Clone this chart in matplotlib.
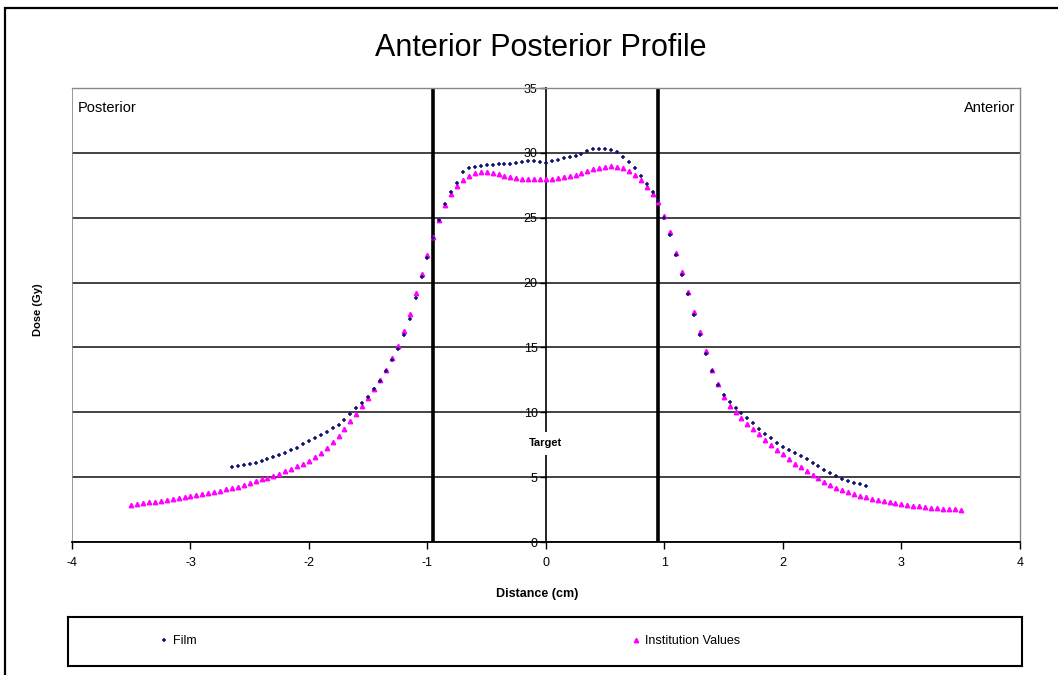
import numpy as np
import matplotlib
matplotlib.use("Agg")
import matplotlib.pyplot as plt
from matplotlib.lines import Line2D
from matplotlib.patches import Rectangle

plt.rcParams["font.family"] = ["Liberation Sans", "DejaVu Sans"]
plt.rcParams["axes.unicode_minus"] = False

# AP dose profiles, sampled every 0.05 cm
x_inst = np.round(np.arange(-3.5, 3.5001, 0.05), 2)
dose_inst = [2.86, 2.92, 2.98, 3.05, 3.11, 3.18, 3.25, 3.32, 3.38, 3.45,
             3.52, 3.60, 3.68, 3.77, 3.86, 3.95, 4.05, 4.15, 4.26, 4.39,
             4.54, 4.68, 4.83, 4.97, 5.12, 5.28, 5.46, 5.65, 5.85, 6.05,
             6.25, 6.55, 6.90, 7.28, 7.70, 8.16, 8.70, 9.30, 9.90, 10.45,
             11.1, 11.8, 12.5, 13.3, 14.2, 15.1, 16.3, 17.6, 19.2, 20.7,
             22.1, 23.5, 24.8, 25.95, 26.8, 27.45, 27.9, 28.2, 28.42, 28.52,
             28.55, 28.48, 28.35, 28.22, 28.12, 28.05, 28.0, 27.97, 27.95, 27.95,
             27.95, 28.0, 28.05, 28.12, 28.2, 28.3, 28.43, 28.57, 28.72, 28.85,
             28.92, 28.95, 28.92, 28.8, 28.6, 28.3, 27.9, 27.4, 26.85, 26.2,
             25.1, 23.9, 22.3, 20.8, 19.3, 17.7, 16.2, 14.7, 13.3, 12.2,
             11.2, 10.45, 10.0, 9.55, 9.1, 8.7, 8.3, 7.9, 7.5, 7.1,
             6.75, 6.4, 6.05, 5.75, 5.45, 5.15, 4.9, 4.65, 4.42, 4.2,
             4.0, 3.85, 3.7, 3.56, 3.44, 3.33, 3.23, 3.14, 3.06, 2.98,
             2.91, 2.85, 2.79, 2.74, 2.69, 2.65, 2.61, 2.57, 2.54, 2.51,
             2.48]

x_film = np.round(np.arange(-2.65, 2.7001, 0.05), 2)
dose_film = [5.82, 5.86, 5.92, 6.00, 6.12, 6.25, 6.40, 6.56, 6.72, 6.90,
             7.08, 7.28, 7.52, 7.78, 8.03, 8.28, 8.52, 8.78, 9.06, 9.42,
             9.85, 10.3, 10.7, 11.2, 11.8, 12.45, 13.2, 14.0, 14.9, 15.95,
             17.2, 18.8, 20.4, 21.9, 23.4, 24.8, 26.05, 26.95, 27.7, 28.5,
             28.8, 28.92, 28.98, 29.05, 29.08, 29.12, 29.15, 29.18, 29.22, 29.28,
             29.4, 29.35, 29.27, 29.2, 29.38, 29.48, 29.57, 29.65, 29.73, 29.9,
             30.12, 30.28, 30.32, 30.32, 30.25, 30.05, 29.7, 29.3, 28.85, 28.2,
             27.6, 27.0, 26.3, 25.0, 23.7, 22.1, 20.6, 19.1, 17.5, 15.95,
             14.5, 13.2, 12.1, 11.3, 10.8, 10.35, 9.95, 9.55, 9.15, 8.75,
             8.35, 8.0, 7.65, 7.35, 7.1, 6.85, 6.6, 6.37, 6.12, 5.85,
             5.57, 5.32, 5.08, 4.88, 4.70, 4.55, 4.44, 4.35]

target_edges = [-0.95, 0.95]
C_FILM, C_INST = "#14146e", "#ff00ff"

fig = plt.figure(figsize=(10.58, 6.75), dpi=100)
ax = fig.add_axes([0.068, 0.197, 0.896, 0.6726])

ax.plot(x_inst, dose_inst, ls="none", marker="^", ms=3.2, color=C_INST, mec=C_INST,
        label="Institution Values", zorder=3)
ax.plot(x_film, dose_film, ls="none", marker="+", ms=3.2, mew=1.1, color=C_FILM,
        label="Film", zorder=4)
for xe in target_edges:
    ax.axvline(xe, color="black", lw=2.6, zorder=2)

ax.set_xlim(-4, 4); ax.set_ylim(0, 35)
ax.set_xticks(range(-4, 5)); ax.set_yticks(range(0, 36, 5))
ax.yaxis.grid(True, color="#222222", lw=1.2); ax.set_axisbelow(True)

# y axis runs through x = 0, plot area framed in grey
ax.spines["left"].set_position(("data", 0))
ax.spines["left"].set_color("black"); ax.spines["left"].set_linewidth(1.2)
ax.spines["bottom"].set_color("black"); ax.spines["bottom"].set_linewidth(1.3)
for s in ("top", "right"):
    ax.spines[s].set_color("#888888"); ax.spines[s].set_linewidth(1.0)
ax.axvline(-4, color="#888888", lw=1.2, zorder=1)
ax.tick_params(axis="y", direction="out", length=4, width=1, pad=2, labelsize=9)
ax.tick_params(axis="x", direction="out", length=5, width=1, pad=6, labelsize=9)

ax.text(0, 7.6, "Target", ha="center", va="center", fontsize=8, fontweight="bold",
        bbox=dict(fc="white", ec="none", pad=5), zorder=5)
ax.text(0.006, 0.972, "Posterior", transform=ax.transAxes, ha="left", va="top", fontsize=10.5)
ax.text(0.995, 0.972, "Anterior", transform=ax.transAxes, ha="right", va="top", fontsize=10.5)

fig.text(541/1058, 1 - 48/675, "Anterior Posterior Profile", ha="center", va="center", fontsize=22)
fig.text(537/1058, 1 - 594/675, "Distance (cm)", ha="center", va="center", fontsize=9, fontweight="bold")
fig.text(38/1058, 1 - 310/675, "Dose (Gy)", ha="center", va="center", rotation=90,
         fontsize=8, fontweight="bold")

# legend box below the plot
lax = fig.add_axes([68/1058, 9/675, 954/1058, 49/675])
lax.set_xticks([]); lax.set_yticks([])
for s in lax.spines.values():
    s.set_linewidth(1.5); s.set_color("black")
h_film = Line2D([], [], ls="none", marker="+", ms=3.2, mew=1.1, color=C_FILM, label="Film")
h_inst = Line2D([], [], ls="none", marker="^", ms=3.2, color=C_INST, label="Institution Values")
leg1 = lax.legend(handles=[h_film], loc="center left", bbox_to_anchor=(0.085, 0.5),
                  frameon=False, fontsize=9, handlelength=0.6, handletextpad=0.4)
lax.add_artist(leg1)
lax.legend(handles=[h_inst], loc="center left", bbox_to_anchor=(0.58, 0.5),
           frameon=False, fontsize=9, handlelength=0.6, handletextpad=0.4)

# outer frame, left and top edges visible
fig.patches.append(Rectangle((5/1058, -0.5), 2.0, 0.5 + 1 - 8/675, transform=fig.transFigure,
                             fill=False, ec="black", lw=1.6))

fig.savefig("out.png", dpi=100)
